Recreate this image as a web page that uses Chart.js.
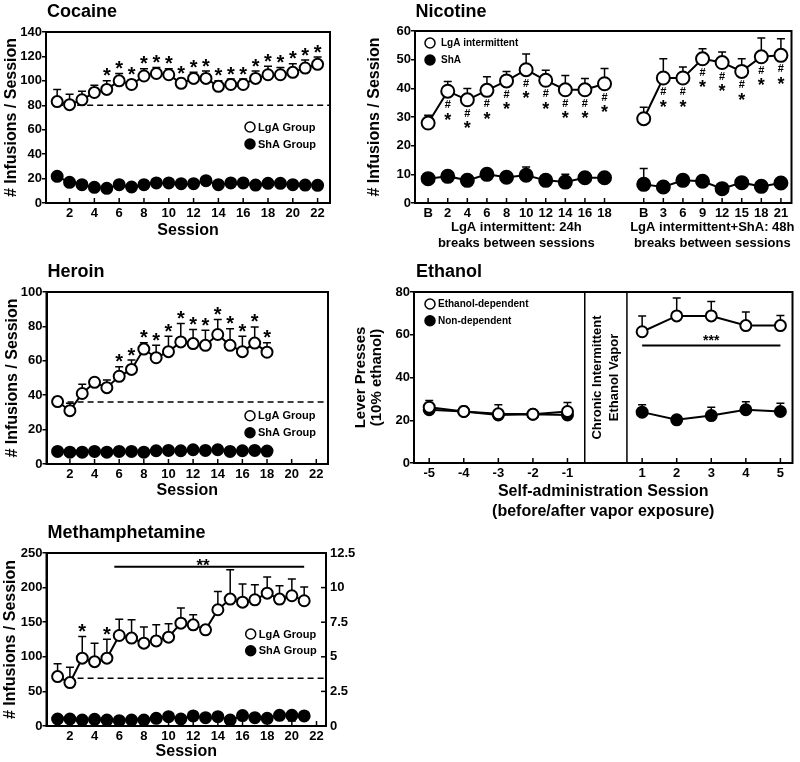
<!DOCTYPE html>
<html>
<head>
<meta charset="utf-8">
<title>Escalation of drug self-administration</title>
<script src="https://cdn.jsdelivr.net/npm/chart.js@4.4.1/dist/chart.umd.min.js"></script>
<style>
  body { margin: 0; background: #fff; }
  #page { position: relative; width: 800px; height: 762px; overflow: hidden; }
  #page canvas { position: absolute; left: 0; top: 0; }
  .panel-title { position: absolute; font-family: 'Liberation Sans', Arial, sans-serif; font-weight: bold;
                 font-size: 18px; line-height: 18px; white-space: nowrap; color: #000; }
</style>
</head>
<body>
<div id="page">
  <canvas id="cocaineChart" width="800" height="762"></canvas>
  <canvas id="nicotineChart" width="800" height="762"></canvas>
  <canvas id="heroinChart" width="800" height="762"></canvas>
  <canvas id="ethanolChart" width="800" height="762"></canvas>
  <canvas id="methChart" width="800" height="762"></canvas>
  <div class="panel-title" style="left:47px; top:1.5px;">Cocaine</div>
  <div class="panel-title" style="left:415.5px; top:2px;">Nicotine</div>
  <div class="panel-title" style="left:47.5px; top:262px;">Heroin</div>
  <div class="panel-title" style="left:416px; top:262px;">Ethanol</div>
  <div class="panel-title" style="left:47.5px; top:523px;">Methamphetamine</div>
</div>
<script>
const W = 800, H = 762;
const FONT = "'Liberation Sans', Arial, Helvetica, sans-serif";
Chart.defaults.font.family = FONT;
Chart.defaults.font.weight = 'bold';
Chart.defaults.color = '#000';
Chart.defaults.animation = false;

// ======================= Data =======================
// Cocaine
const cocaineSessions = [1, 2, 3, 4, 5, 6, 7, 8, 9, 10, 11, 12, 13, 14, 15, 16, 17, 18, 19, 20, 21, 22];
const cocaineLgA = [83, 80.5, 84.5, 90.5, 93, 100, 97, 104, 106, 105, 98, 102, 102, 95.5, 97, 97, 102, 105, 105, 107, 110.5, 113.5];
const cocaineLgAErr = [10, 8.5, 7, 6, 7, 6, 4, 6, 5, 5, 4, 5, 6, 4.5, 4.5, 4.5, 6, 7, 6, 7, 6.5, 6];
const cocaineShA = [21.8, 16.9, 15, 12.8, 12, 15, 13.1, 15, 16.4, 16.4, 15.8, 15.8, 18.3, 15, 16.4, 16.4, 14.7, 16.1, 16.1, 15, 14.7, 14.5];
const cocaineShAErr = [3, 2, 1.5, 1.5, 1.5, 1.5, 1.5, 1.5, 1.5, 1.5, 1.5, 1.5, 1.5, 1.5, 1.5, 1.5, 1.5, 1.5, 1.5, 1.5, 1.5, 1.5];
const cocaineStars = [5, 6, 7, 8, 9, 10, 11, 12, 13, 14, 15, 16, 17, 18, 19, 20, 21, 22];
const cocaineBaseline = 80;
const cocaineXTicks = [2, 4, 6, 8, 10, 12, 14, 16, 18, 20, 22];

// Nicotine
const nicotineG1Labels = ['B', '2', '4', '6', '8', '10', '12', '14', '16', '18'];
const nicotineG1LgA = [27.9, 39, 36, 39.3, 42.6, 46.5, 42.8, 39.5, 39.5, 41.6];
const nicotineG1LgAErr = [2.7, 3.4, 3.9, 4.7, 3.3, 5.5, 3.5, 5, 3.9, 5.3];
const nicotineG1ShA = [8.5, 9.3, 7.9, 10, 9, 9.7, 7.9, 7.3, 8.8, 8.8];
const nicotineG1ShAErr = [1.7, 1.5, 1.2, 1.6, 1, 2.9, 1.2, 2.7, 1.7, 1.7];
const nicotineG2Labels = ['B', '3', '6', '9', '12', '15', '18', '21'];
const nicotineG2LgA = [29.4, 43.6, 43.6, 50.3, 49, 45.9, 51, 51.5];
const nicotineG2LgAErr = [4, 6.7, 3.8, 3.5, 3.7, 4.4, 6.6, 5.8];
const nicotineG2ShA = [6.5, 5.6, 7.9, 7.6, 5, 7.1, 5.8, 7];
const nicotineG2ShAErr = [5.5, 1, 1.1, 1, 1, 1, 1, 1];
const nicotineGroupTitles = [
  ['LgA intermittent: 24h', 'breaks between sessions'],
  ['LgA intermittent+ShA: 48h', 'breaks between sessions']
];

// Heroin
const heroinSessions = [1, 2, 3, 4, 5, 6, 7, 8, 9, 10, 11, 12, 13, 14, 15, 16, 17, 18];
const heroinLgA = [36.3, 31, 41, 47.5, 44.4, 51, 55, 66.8, 61.8, 65.3, 71, 70, 69, 75.3, 69, 65.3, 70.3, 65];
const heroinLgAErr = [2.7, 4.3, 5.3, 2.3, 4.4, 5.6, 5.4, 3.7, 7.2, 9, 10.7, 8.2, 8.8, 8.7, 9.6, 9, 9.4, 5.5];
const heroinShA = [7.3, 6.9, 6.9, 7.3, 6.9, 7.3, 7.3, 6.9, 7.7, 7.9, 7.7, 8.3, 7.9, 8.3, 7.3, 7.7, 7.9, 7.5];
const heroinShAErr = [1, 1, 1, 1, 1, 1, 1, 1, 1, 1, 1, 1, 1, 1, 1, 1, 1, 1];
const heroinStars = [6, 7, 8, 9, 10, 11, 12, 13, 14, 15, 16, 17, 18];
const heroinBaseline = 36;
const heroinXTicks = [2, 4, 6, 8, 10, 12, 14, 16, 18, 20, 22];

// Ethanol
const ethanolPre = [-5, -4, -3, -2, -1];
const ethanolPost = [1, 2, 3, 4, 5];
const ethanolGap = 2.16; // axis distance from session -1 to session 1
const ethanolDepPre = [26.1, 24.1, 23, 22.8, 24.1];
const ethanolDepPreErr = [3.1, 2.3, 4.2, 2, 4.2];
const ethanolDepPost = [61.4, 68.8, 68.8, 64.3, 64.3];
const ethanolDepPostErr = [7.4, 8.4, 6.8, 6.4, 4.7];
const ethanolNonPre = [24.9, 24.1, 22.5, 22.8, 22.5];
const ethanolNonPreErr = [1, 1, 1, 1, 1];
const ethanolNonPost = [23.8, 20.2, 22.2, 24.9, 24.1];
const ethanolNonPostErr = [3.4, 1, 3.9, 3.8, 3.9];
const ethanolSigLevel = 55;
const ethanolVapor = [-0.5, 0.72];

// Methamphetamine
const methSessions = [1, 2, 3, 4, 5, 6, 7, 8, 9, 10, 11, 12, 13, 14, 15, 16, 17, 18, 19, 20, 21];
const methLgA = [71.4, 62.7, 98, 93, 98, 130.8, 127, 119.7, 123, 128.4, 148.6, 146.2, 139, 168, 183.4, 179, 182.4, 192, 183.4, 188.2, 181];
const methLgAErr = [18.4, 22.3, 31.3, 26.7, 27.5, 23.6, 26.5, 23.2, 23.2, 19.3, 21.8, 14.5, 0, 26.5, 42.5, 26.1, 21.8, 23.3, 19.3, 24.2, 19.8];
const methShA = [10.1, 10.1, 8.7, 9.7, 8.7, 7.7, 8.7, 8.7, 11.1, 13.5, 10.1, 14.5, 12, 13.5, 8.7, 15, 12, 11.1, 15.4, 15.4, 14.5];
const methShAErr = [3, 3, 2, 2, 2, 2, 2, 2, 3, 5, 3, 6, 4, 5, 2, 6, 4, 6, 6, 8, 5];
const methStars = [3, 5];
const methBaseline = 69;
const methSigFrom = 5.6, methSigTo = 21, methSigLevel = 230;
const methXTicks = [2, 4, 6, 8, 10, 12, 14, 16, 18, 20, 22];
const methRightTicks = [0, 2.5, 5, 7.5, 10, 12.5];

// ======================= Helpers =======================
function pts(xs, ys) {
  return xs.map((x, i) => ({ x: x, y: ys[i] }));
}

function series(xs, ys, errs, filled, radius, extra) {
  return Object.assign({
    type: 'line',
    data: pts(xs, ys),
    errors: errs,
    borderColor: '#000',
    borderWidth: 2,
    pointRadius: radius,
    pointHoverRadius: radius,
    pointBorderWidth: 2,
    pointBackgroundColor: filled ? '#000' : '#fff',
    pointBorderColor: '#000',
    fill: false,
    tension: 0
  }, extra || {});
}

function refLine(x0, x1, y, dashed) {
  return {
    type: 'line',
    data: [{ x: x0, y: y }, { x: x1, y: y }],
    borderColor: '#000',
    borderWidth: dashed ? 1.5 : 2,
    borderDash: dashed ? [6, 4] : [],
    pointRadius: 0,
    fill: false
  };
}

const panelExtras = {};

function drawText(ctx, text, x, y, size, align, baseline) {
  ctx.font = `bold ${size}px ${FONT}`;
  ctx.textAlign = align || 'center';
  ctx.textBaseline = baseline || 'alphabetic';
  ctx.fillText(text, x, y);
}

const extrasPlugin = {
  id: 'extras',
  beforeDatasetsDraw(chart) {
    const ctx = chart.ctx;
    const ex = panelExtras[chart.canvas.id] || {};
    const a = chart.chartArea;
    ctx.save();
    ctx.strokeStyle = '#000';

    // vapor period dividers
    if (ex.dividers) {
      ctx.lineWidth = 1.5;
      ex.dividers.forEach(v => {
        const px = chart.scales.x.getPixelForValue(v);
        ctx.beginPath();
        ctx.moveTo(px, a.top);
        ctx.lineTo(px, a.bottom);
        ctx.stroke();
      });
    }

    // error bars (one-sided)
    ctx.lineWidth = 1.5;
    chart.data.datasets.forEach((ds, i) => {
      if (!ds.errors) return;
      const meta = chart.getDatasetMeta(i);
      const ys = chart.scales[meta.yAxisID];
      meta.data.forEach((pt, j) => {
        const e = ds.errors[j];
        if (!e) return;
        const v = ds.data[j].y;
        const yEnd = ys.getPixelForValue(ds.errDown ? v - e : v + e);
        ctx.beginPath();
        ctx.moveTo(pt.x, pt.y);
        ctx.lineTo(pt.x, yEnd);
        ctx.moveTo(pt.x - 4, yEnd);
        ctx.lineTo(pt.x + 4, yEnd);
        ctx.stroke();
      });
    });
    ctx.restore();
  },

  afterDraw(chart) {
    const ctx = chart.ctx;
    const ex = panelExtras[chart.canvas.id] || {};
    const a = chart.chartArea;
    const xs = chart.scales.x;
    const ys = chart.scales.y;
    ctx.save();
    ctx.strokeStyle = '#000';
    ctx.fillStyle = '#000';

    // frame
    ctx.lineWidth = 2;
    ctx.strokeRect(a.left, a.top, a.right - a.left, a.bottom - a.top);

    // inward x tick marks
    ctx.lineWidth = 1.5;
    (ex.xMarks || []).forEach(v => {
      const px = xs.getPixelForValue(v);
      ctx.beginPath();
      ctx.moveTo(px, a.bottom);
      ctx.lineTo(px, a.bottom - 5);
      ctx.stroke();
    });

    // inward right-axis tick marks
    if (ex.rightMarks && chart.scales.y2) {
      ex.rightMarks.forEach(v => {
        const py = chart.scales.y2.getPixelForValue(v);
        ctx.beginPath();
        ctx.moveTo(a.right, py);
        ctx.lineTo(a.right - 5, py);
        ctx.stroke();
      });
    }

    // significance stars above error bars
    chart.data.datasets.forEach((ds, i) => {
      const meta = chart.getDatasetMeta(i);
      if (ds.stars) {
        meta.data.forEach((pt, j) => {
          const d = ds.data[j];
          if (!ds.stars.includes(d.x)) return;
          const top = ys.getPixelForValue(d.y + (ds.errors ? ds.errors[j] : 0));
          drawText(ctx, '*', pt.x, top + 1.5, 20);
        });
      }
      if (ds.marksBelow) {
        meta.data.forEach((pt, j) => {
          if (!ds.marksBelow[j]) return;
          drawText(ctx, '#', pt.x, pt.y + 17, 11);
          drawText(ctx, '*', pt.x, pt.y + 34.5, 18);
        });
      }
    });

    // free text annotations at data positions
    (ex.texts || []).forEach(t => {
      const px = xs.getPixelForValue(t.x);
      const py = ys.getPixelForValue(t.y);
      drawText(ctx, t.text, px, py + t.dy, t.size);
    });

    // rotated vapor label
    if (ex.vaporText) {
      const cx = xs.getPixelForValue((ex.dividers[0] + ex.dividers[1]) / 2);
      const cy = (a.top + a.bottom) / 2;
      ctx.save();
      ctx.translate(cx, cy);
      ctx.rotate(-Math.PI / 2);
      ex.vaporText.forEach((line, k) => {
        drawText(ctx, line, 0, (k - (ex.vaporText.length - 1) / 2) * 16.5, 13, 'center', 'middle');
      });
      ctx.restore();
    }

    // group captions under the x axis
    (ex.groups || []).forEach(g => {
      const px = (xs.getPixelForValue(g.from) + xs.getPixelForValue(g.to)) / 2;
      g.lines.forEach((line, k) => {
        drawText(ctx, line, px, a.bottom + 24 + k * 16.7, 13, 'center', 'middle');
      });
    });

    // legend
    if (ex.legend) {
      const lg = ex.legend;
      lg.items.forEach((it, k) => {
        const cy = lg.y + k * lg.dy;
        ctx.beginPath();
        ctx.arc(lg.x, cy, lg.r, 0, 2 * Math.PI);
        ctx.fillStyle = it.filled ? '#000' : '#fff';
        ctx.fill();
        ctx.lineWidth = 1.5;
        ctx.stroke();
        ctx.fillStyle = '#000';
        drawText(ctx, it.text, lg.x + lg.tx, cy + 0.5, lg.size, 'left', 'middle');
      });
    }
    ctx.restore();
  }
};

// ======================= Panel builder =======================
function makePanel(id, p) {
  const yLh = p.yTitleSize * p.yTitleLh;
  const padLeft = p.yTitleX - yLh / 2;
  const yW = p.area.l - padLeft;
  const xLh = 16 * (p.xTitleLh || 1.2);
  const xLines = Array.isArray(p.xTitle) ? p.xTitle.length : 1;
  const xH = p.xTitle ? p.xTitleY - p.area.b + xLh / 2 + xLh * (xLines - 1) : 30;
  const rW = p.y2 ? 40 : 0;

  const scales = {
    x: {
      type: 'linear',
      min: p.xMin,
      max: p.xMax,
      afterBuildTicks: s => { s.ticks = p.xTicks.map(v => ({ value: v })); },
      afterFit: s => { s.height = xH; },
      ticks: {
        autoSkip: false,
        maxRotation: 0,
        padding: 3,
        color: '#000',
        font: { size: p.xTickSize || 13, weight: 'bold' },
        callback: (v, i) => p.xLabels[i]
      },
      grid: { display: false, drawTicks: false, tickLength: 0 },
      border: { display: true, color: '#000', width: 2 },
      title: {
        display: !!p.xTitle,
        text: p.xTitle,
        color: '#000',
        padding: 0,
        font: { size: 16, weight: 'bold', lineHeight: p.xTitleLh || 1.2 }
      }
    },
    y: {
      min: p.yMin,
      max: p.yMax,
      afterFit: s => { s.width = yW; },
      ticks: { stepSize: p.yStep, padding: 0, color: '#000', font: { size: 13, weight: 'bold' } },
      grid: { drawOnChartArea: false, tickLength: 4, color: '#000', lineWidth: 1.5 },
      border: { color: '#000', width: 2 },
      title: {
        display: true,
        text: p.yTitle,
        color: '#000',
        padding: 0,
        font: { size: p.yTitleSize, weight: 'bold', lineHeight: p.yTitleLh }
      }
    }
  };

  if (p.y2) {
    scales.y2 = {
      position: 'right',
      min: p.y2.min,
      max: p.y2.max,
      afterBuildTicks: s => { s.ticks = p.y2.ticks.map(v => ({ value: v })); },
      afterFit: s => { s.width = rW; },
      ticks: { padding: 4, color: '#000', font: { size: 13, weight: 'bold' }, callback: v => String(v) },
      grid: { display: false, drawTicks: false, tickLength: 0 },
      border: { display: true, color: '#000', width: 2 }
    };
  }

  panelExtras[id] = p.extras;

  return new Chart(document.getElementById(id), {
    type: 'line',
    data: { datasets: p.datasets },
    options: {
      responsive: false,
      animation: false,
      events: [],
      layout: {
        padding: {
          left: padLeft,
          top: p.area.t,
          right: W - p.area.r - rW,
          bottom: H - p.area.b - xH
        }
      },
      plugins: { legend: { display: false }, tooltip: { enabled: false } },
      scales: scales
    },
    plugins: [extrasPlugin]
  });
}

const groupLegend = [{ text: 'LgA Group', filled: false }, { text: 'ShA Group', filled: true }];

// ======================= Cocaine =======================
makePanel('cocaineChart', {
  area: { l: 46, t: 32, r: 330, b: 203 },
  xMin: 0.1, xMax: 23,
  xTicks: cocaineXTicks, xLabels: cocaineXTicks.map(String),
  yMin: 0, yMax: 140, yStep: 20,
  yTitle: '# Infusions / Session', yTitleSize: 16, yTitleLh: 1.2, yTitleX: 11.5,
  xTitle: 'Session', xTitleY: 231,
  datasets: [
    series(cocaineSessions, cocaineLgA, cocaineLgAErr, false, 5.5, { stars: cocaineStars }),
    series(cocaineSessions, cocaineShA, cocaineShAErr, true, 5.5),
    refLine(1, 23, cocaineBaseline, true)
  ],
  extras: {
    xMarks: cocaineXTicks,
    legend: { x: 250, y: 127, dy: 17, r: 5, tx: 8, size: 11, items: groupLegend }
  }
});

// ======================= Nicotine =======================
const nicotineG1X = nicotineG1Labels.map((_, i) => i);
const nicotineG2X = nicotineG2Labels.map((_, i) => i + nicotineG1Labels.length + 1);
const nicotineXTicks = nicotineG1X.concat(nicotineG2X);

makePanel('nicotineChart', {
  area: { l: 415, t: 31, r: 797, b: 203 },
  xMin: -0.67, xMax: 18.54,
  xTicks: nicotineXTicks, xLabels: nicotineG1Labels.concat(nicotineG2Labels), xTickSize: 13,
  yMin: 0, yMax: 60, yStep: 10,
  yTitle: '# Infusions / Session', yTitleSize: 16, yTitleLh: 1.2, yTitleX: 375,
  xTitle: null,
  datasets: [
    series(nicotineG1X, nicotineG1LgA, nicotineG1LgAErr, false, 6.5, { marksBelow: nicotineG1Labels.map(l => l !== 'B') }),
    series(nicotineG2X, nicotineG2LgA, nicotineG2LgAErr, false, 6.5, { marksBelow: nicotineG2Labels.map(l => l !== 'B') }),
    series(nicotineG1X, nicotineG1ShA, nicotineG1ShAErr, true, 6.5),
    series(nicotineG2X, nicotineG2ShA, nicotineG2ShAErr, true, 6.5)
  ],
  extras: {
    xMarks: nicotineXTicks,
    groups: [
      { from: nicotineG1X[0], to: nicotineG1X[nicotineG1X.length - 1], lines: nicotineGroupTitles[0] },
      { from: nicotineG2X[0], to: nicotineG2X[nicotineG2X.length - 1], lines: nicotineGroupTitles[1] }
    ],
    legend: { x: 430, y: 43, dy: 17, r: 5, tx: 11, size: 10,
              items: [{ text: 'LgA intermittent', filled: false }, { text: 'ShA', filled: true }] }
  }
});

// ======================= Heroin =======================
makePanel('heroinChart', {
  area: { l: 46.5, t: 292, r: 328, b: 464 },
  xMin: 0.1, xMax: 22.95,
  xTicks: heroinXTicks, xLabels: heroinXTicks.map(String),
  yMin: 0, yMax: 100, yStep: 20,
  yTitle: '# Infusions / Session', yTitleSize: 16, yTitleLh: 1.2, yTitleX: 13,
  xTitle: 'Session', xTitleY: 491,
  datasets: [
    series(heroinSessions, heroinLgA, heroinLgAErr, false, 5.5, { stars: heroinStars }),
    series(heroinSessions, heroinShA, heroinShAErr, true, 5.5),
    refLine(1, 23, heroinBaseline, true)
  ],
  extras: {
    xMarks: heroinXTicks,
    legend: { x: 250, y: 415.7, dy: 17, r: 5, tx: 8, size: 11, items: groupLegend }
  }
});

// ======================= Ethanol =======================
const ethanolPostX = ethanolPost.map(s => s - 2 + ethanolGap);
const ethanolXTicks = ethanolPre.concat(ethanolPostX);

makePanel('ethanolChart', {
  area: { l: 414, t: 292, r: 795, b: 463 },
  xMin: -5.44, xMax: 5.51,
  xTicks: ethanolXTicks, xLabels: ethanolPre.concat(ethanolPost).map(String),
  yMin: 0, yMax: 80, yStep: 20,
  yTitle: ['Lever Presses', '(10% ethanol)'], yTitleSize: 15, yTitleLh: 1.05, yTitleX: 361,
  xTitle: ['Self-administration Session', '(before/after vapor exposure)'], xTitleY: 492, xTitleLh: 1.25,
  datasets: [
    series(ethanolPre, ethanolDepPre, ethanolDepPreErr, false, 5.5),
    series(ethanolPostX, ethanolDepPost, ethanolDepPostErr, false, 5.5),
    series(ethanolPre, ethanolNonPre, ethanolNonPreErr, true, 5.5),
    series(ethanolPostX, ethanolNonPost, ethanolNonPostErr, true, 5.5),
    refLine(ethanolPostX[0], ethanolPostX[ethanolPostX.length - 1], ethanolSigLevel, false)
  ],
  extras: {
    xMarks: ethanolXTicks,
    dividers: ethanolVapor,
    vaporText: ['Chronic Intermittent', 'Ethanol Vapor'],
    texts: [{ x: ethanolPostX[2], y: ethanolSigLevel, text: '***', size: 14, dy: 0 }],
    legend: { x: 430, y: 304, dy: 16.7, r: 5, tx: 8, size: 10,
              items: [{ text: 'Ethanol-dependent', filled: false }, { text: 'Non-dependent', filled: true }] }
  }
});

// ======================= Methamphetamine =======================
makePanel('methChart', {
  area: { l: 46.5, t: 553, r: 326, b: 726 },
  xMin: 0.1, xMax: 22.77,
  xTicks: methXTicks, xLabels: methXTicks.map(String),
  yMin: 0, yMax: 250, yStep: 50,
  y2: { min: 0, max: 12.5, ticks: methRightTicks },
  yTitle: '# Infusions / Session', yTitleSize: 16, yTitleLh: 1.2, yTitleX: 11,
  xTitle: 'Session', xTitleY: 752,
  datasets: [
    series(methSessions, methLgA, methLgAErr, false, 5.5, { stars: methStars }),
    series(methSessions, methShA, methShAErr, true, 5.5, { errDown: true }),
    refLine(1, 23, methBaseline, true),
    refLine(methSigFrom, methSigTo, methSigLevel, false)
  ],
  extras: {
    xMarks: methXTicks,
    rightMarks: methRightTicks,
    texts: [{ x: 12.8, y: methSigLevel, text: '**', size: 17, dy: 4 }],
    legend: { x: 250.7, y: 634, dy: 16.7, r: 5, tx: 8, size: 11, items: groupLegend }
  }
});
</script>
</body>
</html>
